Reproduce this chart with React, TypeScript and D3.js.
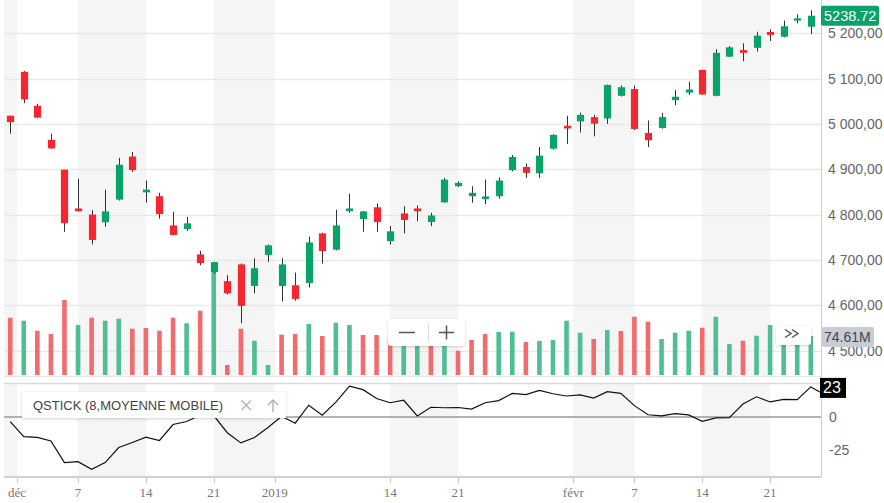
import React, { useEffect, useRef } from 'react';
import * as d3 from 'd3';

// CAC 40, daily sessions
const dates = [
  '2018-11-30',
  '2018-12-03', '2018-12-04', '2018-12-05', '2018-12-06', '2018-12-07',
  '2018-12-10', '2018-12-11', '2018-12-12', '2018-12-13', '2018-12-14',
  '2018-12-17', '2018-12-18', '2018-12-19', '2018-12-20', '2018-12-21',
  '2018-12-24', '2018-12-27', '2018-12-28', '2018-12-31',
  '2019-01-02', '2019-01-03', '2019-01-04',
  '2019-01-07', '2019-01-08', '2019-01-09', '2019-01-10', '2019-01-11',
  '2019-01-14', '2019-01-15', '2019-01-16', '2019-01-17', '2019-01-18',
  '2019-01-21', '2019-01-22', '2019-01-23', '2019-01-24', '2019-01-25',
  '2019-01-28', '2019-01-29', '2019-01-30', '2019-01-31', '2019-02-01',
  '2019-02-04', '2019-02-05', '2019-02-06', '2019-02-07', '2019-02-08',
  '2019-02-11', '2019-02-12', '2019-02-13', '2019-02-14', '2019-02-15',
  '2019-02-18', '2019-02-19', '2019-02-20', '2019-02-21', '2019-02-22',
  '2019-02-25', '2019-02-26',
];

const opens = [
  5018, 5115, 5040, 4965, 4899, 4813.5, 4800, 4783, 4833, 4928, 4849,
  4840.5, 4776, 4768, 4712, 4673, 4653, 4690, 4642.5, 4711, 4642.5, 4644,
  4649, 4758.5, 4722.5, 4807.5, 4790, 4816, 4741.5, 4802.5, 4813.5, 4783.5,
  4827, 4862.5, 4840.5, 4834, 4840.5, 4898, 4905, 4891, 4945.5, 4996,
  5005.5, 5015, 5012, 5062, 5077, 4980, 4991, 5052.5, 5069, 5119, 5062,
  5148.5, 5163, 5168, 5203, 5192.5, 5228, 5214.5,
];
const highs = [
  5018, 5117, 5044.5, 4978.5, 4899, 4879.5, 4810, 4855, 4925, 4938, 4875,
  4848, 4806, 4795, 4720, 4696, 4666, 4692, 4703.5, 4734, 4703.5, 4672,
  4751, 4760, 4810.5, 4846.5, 4808, 4824.5, 4774.5, 4818.5, 4820, 4804,
  4881, 4873.5, 4862.5, 4877, 4882, 4931.5, 4912.5, 4949, 4977, 5018,
  5025, 5020, 5087, 5085, 5085, 5007.5, 5024, 5075, 5093, 5120, 5165,
  5172, 5178, 5203.5, 5209, 5228, 5242, 5251,
];
const lows = [
  4978.5, 5046, 5013, 4945, 4762, 4807, 4734, 4773, 4831, 4894, 4826,
  4791, 4754, 4764, 4688, 4670, 4624, 4560, 4626.5, 4695.5, 4608, 4610,
  4639, 4692, 4721, 4804, 4762, 4762, 4733.5, 4758.5, 4785.5, 4774.5,
  4826, 4861, 4826, 4823, 4835, 4895.5, 4881, 4881, 4943, 4956,
  4981, 4972.5, 5000, 5060.5, 4987, 4949, 4989.5, 5041.5, 5064, 5064, 5061,
  5148, 5138.5, 5159.5, 5183, 5191, 5222, 5198,
];
const closes = [
  5004, 5054, 5014, 4946, 4781, 4807.5, 4744, 4807, 4910, 4898, 4855,
  4801, 4755, 4780.5, 4693, 4695, 4626.5, 4598.5, 4681.5, 4732, 4690, 4614,
  4738.5, 4719.5, 4776, 4813.5, 4807, 4783.5, 4763, 4788, 4807.5, 4798,
  4877, 4870, 4848, 4840, 4875, 4927, 4892, 4930, 4976, 4990,
  5020, 5000.5, 5086, 5081, 4989, 4964, 5015, 5060, 5076, 5065, 5157,
  5169, 5157, 5195, 5196.5, 5215.5, 5233, 5238.72,
];
const prevClose = 5006; // session before the first one shown

// volume, millions
const volumes = [
  109.6, 103.9, 84.7, 78.4, 143.5, 95.7, 109.6, 103.9, 107.7, 88.6, 89.9,
  84.7, 109.6, 98.9, 123, 213.7, 19.1, 88.6, 65.6, 19.1, 77.1, 78.4,
  97.6, 74.6, 100, 95.7, 76.5, 76.5, 67, 70.8, 70.8, 67,
  74.6, 46.5, 67, 78.4, 82.3, 82.8, 63.1, 65, 67, 103.9,
  80.9, 68.9, 86.1, 84.2, 111.5, 102, 68.9, 80.9, 84.7, 90.5, 111.5,
  59.3, 65.6, 75.2, 95.7, 70.8, 67, 74.61,
];

// QSTICK (8), last value belongs to the next session, cut at the right edge
const qstick = [
  -3.5, -14.9, -15.4, -18.2, -34.6, -33.8, -39.6, -34.5, -23.1, -19.3, -15.3,
  -17.8, -5.7, -3.4, 1.3, 1.0, -11.9, -19.6, -15.5, -7.9, 0.6, -4.7,
  8.9, 1.3, 11.3, 23.4, 20.7, 14.0, 10.8, 12.7, 0.8, 7.4,
  7.0, 7.2, 6.0, 10.8, 12.4, 17.9, 17.0, 20.1, 17.6, 15.9,
  16.8, 14.3, 19.2, 17.9, 8.6, 1.7, 0.9, 2.6, 1.6, -3.3, -0.7,
  -0.5, 9.8, 15.3, 11.4, 13.3, 13.1, 22.8, 17,
];

const priceTicks = [4500, 4600, 4700, 4800, 4900, 5000, 5100, 5200];
const qstickTicks = [0, -25];
const timeTicks = [
  '2018-12-01', '2018-12-07', '2018-12-14', '2018-12-21', '2019-01-01',
  '2019-01-14', '2019-01-21', '2019-02-01', '2019-02-07', '2019-02-14', '2019-02-21',
];
const timeTickLabels = ['déc', '7', '14', '21', '2019', '14', '21', 'févr', '7', '14', '21'];

const W = 884;
const H = 503;
const plotLeft = 4;
const plotRight = 821;
const mainBottom = 376;
const lowerTop = 383;
const lowerBottom = 477;

const UP = '#07a369';
const DOWN = '#f5262f';
const VOL_UP = '#4fbe92';
const VOL_DOWN = '#f26b6d';
const SANS = '"Liberation Sans", Arial, sans-serif';
const SERIF = '"Liberation Serif", "Times New Roman", serif';

const frNum = d3.formatLocale({
  decimal: ',',
  thousands: '\u00a0',
  grouping: [3],
  currency: ['', ' €'],
}).format(',.2f');

export default function App() {
  const svgRef = useRef<SVGSVGElement>(null);

  useEffect(() => {
    if (!svgRef.current) return;
    const svg = d3.select(svgRef.current);
    svg.selectAll('*').remove();

    const x = d3.scaleLinear().domain([0, dates.length - 1]).range([10.2, 810.8]);
    const yPrice = d3.scaleLinear().domain([4500, 5200]).range([350.5, 33.3]);
    const yVol = d3.scaleLinear().domain([0, 200]).range([375, 270.5]);
    const yQ = d3.scaleLinear().domain([-25, 0]).range([450, 417]);

    const defs = svg.append('defs');
    defs.append('clipPath').attr('id', 'clip-main')
      .append('rect').attr('x', plotLeft).attr('y', 0)
      .attr('width', plotRight - plotLeft).attr('height', mainBottom);
    defs.append('clipPath').attr('id', 'clip-lower')
      .append('rect').attr('x', plotLeft).attr('y', lowerTop)
      .attr('width', plotRight - plotLeft).attr('height', lowerBottom - lowerTop);
    const shadow = defs.append('filter').attr('id', 'shadow')
      .attr('x', '-20%').attr('y', '-40%').attr('width', '140%').attr('height', '180%');
    shadow.append('feDropShadow').attr('dx', 0).attr('dy', 1)
      .attr('stdDeviation', 1.5).attr('flood-color', '#000').attr('flood-opacity', 0.18);

    svg.append('rect').attr('width', W).attr('height', H).attr('fill', '#fff');

    // alternating week bands
    const tickPos = timeTicks.map(t => {
      const idx = dates.findIndex(d => d >= t);
      return t.endsWith('-01') ? idx - 0.5 : idx;
    });
    const edges = [plotLeft, ...tickPos.map(p => x(p)), plotRight];
    const bands = d3.range(edges.length - 1).filter(k => k % 2 === 0);
    svg.append('g').selectAll('rect').data(bands).join('rect')
      .attr('x', k => edges[k]).attr('y', 0)
      .attr('width', k => edges[k + 1] - edges[k]).attr('height', lowerBottom)
      .attr('fill', '#f5f5f5');

    // price grid
    svg.append('g').selectAll('line').data(priceTicks).join('line')
      .attr('x1', plotLeft).attr('x2', plotRight)
      .attr('y1', d => Math.round(yPrice(d)) + 0.5).attr('y2', d => Math.round(yPrice(d)) + 0.5)
      .attr('stroke', '#e9e9e9').attr('stroke-width', 1.5);

    // panel separators
    svg.append('line').attr('x1', plotLeft).attr('x2', plotRight)
      .attr('y1', mainBottom + 0.5).attr('y2', mainBottom + 0.5)
      .attr('stroke', '#e6e6e6');
    svg.append('rect').attr('x', plotLeft).attr('y', mainBottom + 1)
      .attr('width', plotRight - plotLeft).attr('height', lowerTop - mainBottom - 1)
      .attr('fill', '#fff');
    svg.append('line').attr('x1', plotLeft).attr('x2', plotRight)
      .attr('y1', lowerTop + 0.5).attr('y2', lowerTop + 0.5)
      .attr('stroke', '#dcdcdc').attr('stroke-width', 1.5);

    const idx = d3.range(dates.length);

    // volume
    const main = svg.append('g').attr('clip-path', 'url(#clip-main)');
    main.append('g').selectAll('rect').data(idx).join('rect')
      .attr('x', i => x(i) - 2.3).attr('width', 4.6)
      .attr('y', i => yVol(volumes[i]))
      .attr('height', i => yVol(0) - yVol(volumes[i]))
      .attr('fill', i => (closes[i] >= (i === 0 ? prevClose : closes[i - 1]) ? VOL_UP : VOL_DOWN));

    // candles
    const candles = main.append('g').selectAll('g').data(idx).join('g');
    candles.append('line')
      .attr('x1', i => Math.round(x(i)) + 0.5).attr('x2', i => Math.round(x(i)) + 0.5)
      .attr('y1', i => yPrice(highs[i])).attr('y2', i => yPrice(lows[i]))
      .attr('stroke', '#333').attr('stroke-width', 1);
    candles.append('rect')
      .attr('x', i => Math.round(x(i)) + 0.5 - 3.6).attr('width', 7.2)
      .attr('y', i => yPrice(Math.max(opens[i], closes[i])))
      .attr('height', i => Math.max(1.5, Math.abs(yPrice(opens[i]) - yPrice(closes[i]))))
      .attr('fill', i => (closes[i] >= opens[i] ? UP : DOWN));

    // QSTICK panel
    svg.append('line').attr('x1', plotLeft).attr('x2', plotRight)
      .attr('y1', yQ(0)).attr('y2', yQ(0))
      .attr('stroke', '#9a9a9a').attr('stroke-width', 1.5);
    const qLine = d3.line<number>().x((d, i) => x(i)).y(d => yQ(d));
    svg.append('g').attr('clip-path', 'url(#clip-lower)')
      .append('path').datum(qstick).attr('d', qLine)
      .attr('fill', 'none').attr('stroke', '#111').attr('stroke-width', 1.2);

    // right axis
    svg.append('line').attr('x1', plotRight + 0.5).attr('x2', plotRight + 0.5)
      .attr('y1', 0).attr('y2', lowerBottom)
      .attr('stroke', '#cfcfcf');
    svg.append('g').selectAll('text').data(priceTicks).join('text')
      .attr('x', 828).attr('y', d => yPrice(d) + 5)
      .attr('font-family', SANS).attr('font-size', 14).attr('fill', '#666')
      .text(d => frNum(d));
    svg.append('g').selectAll('text').data(qstickTicks).join('text')
      .attr('x', 829).attr('y', d => yQ(d) + 5)
      .attr('font-family', SANS).attr('font-size', 14).attr('fill', '#666')
      .text(d => String(d));

    // bottom axis
    svg.append('line').attr('x1', plotLeft).attr('x2', plotRight)
      .attr('y1', lowerBottom).attr('y2', lowerBottom)
      .attr('stroke', '#d0d0d0').attr('stroke-width', 2);
    const tg = svg.append('g').selectAll('g').data(tickPos).join('g');
    tg.append('line')
      .attr('x1', p => Math.round(x(p)) + 0.5).attr('x2', p => Math.round(x(p)) + 0.5)
      .attr('y1', lowerBottom + 1).attr('y2', lowerBottom + 6)
      .attr('stroke', '#c4c4c4');
    tg.append('text')
      .attr('x', p => x(p)).attr('y', 497)
      .attr('text-anchor', 'middle')
      .attr('font-family', SERIF).attr('font-size', 13).attr('fill', '#777')
      .text((p, k) => timeTickLabels[k]);

    // last price
    const last = dates.length - 1;
    const lp = yPrice(closes[last]);
    svg.append('rect').attr('x', 821).attr('y', lp - 10).attr('width', 58).attr('height', 20)
      .attr('rx', 2).attr('fill', UP);
    svg.append('text').attr('x', 824).attr('y', lp + 5)
      .attr('font-family', SANS).attr('font-size', 14.5).attr('fill', '#fff')
      .text(closes[last].toFixed(2));

    // last volume
    const lv = yVol(volumes[last]);
    svg.append('rect').attr('x', 822).attr('y', lv - 9).attr('width', 52).attr('height', 20)
      .attr('rx', 2).attr('fill', '#c8ccd5');
    svg.append('text').attr('x', 824).attr('y', lv + 6)
      .attr('font-family', SANS).attr('font-size', 14).attr('fill', '#404652')
      .text(`${volumes[last].toFixed(2)}M`);

    // last QSTICK
    const lq = yQ(qstick[last]);
    svg.append('rect').attr('x', 820).attr('y', lq - 9).attr('width', 26).attr('height', 20)
      .attr('fill', '#000');
    svg.append('text').attr('x', 823).attr('y', lq + 6.5)
      .attr('font-family', SANS).attr('font-size', 16).attr('fill', '#fff')
      .text(String(Math.round(qstick[last])));

    // zoom control
    const zc = svg.append('g');
    zc.append('rect').attr('x', 388).attr('y', 319).attr('width', 77).attr('height', 27)
      .attr('rx', 3).attr('fill', '#fff').attr('filter', 'url(#shadow)');
    zc.append('line').attr('x1', 399).attr('x2', 415).attr('y1', 332.5).attr('y2', 332.5)
      .attr('stroke', '#555').attr('stroke-width', 1.5);
    zc.append('line').attr('x1', 428.5).attr('x2', 428.5).attr('y1', 323).attr('y2', 342)
      .attr('stroke', '#ddd');
    zc.append('line').attr('x1', 439).attr('x2', 454).attr('y1', 332.5).attr('y2', 332.5)
      .attr('stroke', '#555').attr('stroke-width', 1.5);
    zc.append('line').attr('x1', 446.5).attr('x2', 446.5).attr('y1', 325.5).attr('y2', 339.5)
      .attr('stroke', '#555').attr('stroke-width', 1.5);

    // scroll-to-end button
    const sb = svg.append('g');
    sb.append('rect').attr('x', 776).attr('y', 326).attr('width', 35).attr('height', 19)
      .attr('rx', 3).attr('fill', '#fff').attr('filter', 'url(#shadow)');
    sb.append('path').attr('d', 'M785,329.5L791,333.5L785,337.5M792,329.5L798,333.5L792,337.5')
      .attr('fill', 'none').attr('stroke', '#555').attr('stroke-width', 1.5);

    // indicator legend
    const lg = svg.append('g');
    lg.append('rect').attr('x', 22).attr('y', 392).attr('width', 264).attr('height', 26)
      .attr('fill', '#fff').attr('filter', 'url(#shadow)');
    lg.append('text').attr('x', 33).attr('y', 410)
      .attr('font-family', SANS).attr('font-size', 13).attr('fill', '#444')
      .text('QSTICK (8,MOYENNE MOBILE)');
    lg.append('path').attr('d', 'M241.5,400.5L251,410M251,400.5L241.5,410')
      .attr('fill', 'none').attr('stroke', '#b5b5b5').attr('stroke-width', 1.5);
    lg.append('path').attr('d', 'M273,412V400M268,405L273,400L278,405')
      .attr('fill', 'none').attr('stroke', '#b5b5b5').attr('stroke-width', 1.5);
  }, []);

  return (
    <svg
      ref={svgRef}
      width={W}
      height={H}
      style={{ position: 'absolute', left: 0, top: 0, display: 'block' }}
    />
  );
}
